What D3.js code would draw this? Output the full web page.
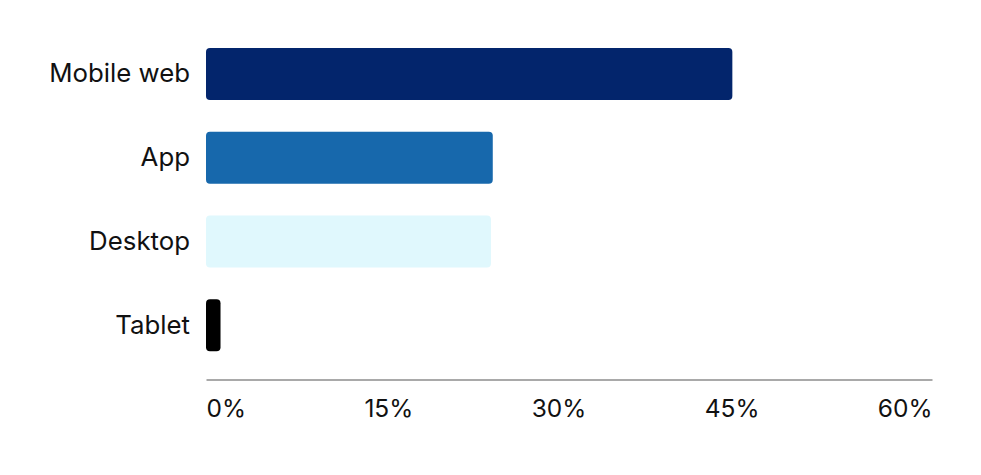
<!DOCTYPE html>
<html>
<head>
<meta charset="utf-8">
<script src="https://cdn.jsdelivr.net/npm/d3@7"></script>
<style>
  body { margin: 0; background: #fff; }
  text { font-family: Inter, "Noto Sans", sans-serif; fill: #111; }
</style>
</head>
<body>
<div id="chart"></div>
<script>
// Share by device
const categories = ['Mobile web', 'App', 'Desktop', 'Tablet'];
const values = [43.5, 23.7, 23.55, 1.2];
const colors = ['#03256c', '#1768ac', '#e0f8fd', '#000000'];
const tickValues = [0, 15, 30, 45, 60];

const width = 981;
const height = 475;
const margin = { top: 32, right: 49, bottom: 96, left: 206 };

const svg = d3.select('#chart')
    .append('svg')
    .attr('width', width)
    .attr('height', height);

const x = d3.scaleLinear()
    .domain([0, 60])
    .range([margin.left, width - margin.right]);

const y = d3.scaleBand()
    .domain(categories)
    .range([margin.top, margin.top + 83.8 * 4])
    .paddingInner(0.38)
    .paddingOuter(0.19);

// Bars
svg.selectAll('.bar')
    .data(categories)
    .enter()
    .append('rect')
    .attr('class', 'bar')
    .attr('x', x(0))
    .attr('y', d => y(d))
    .attr('width', (d, i) => x(values[i]) - x(0))
    .attr('height', y.bandwidth())
    .attr('rx', 4)
    .attr('fill', (d, i) => colors[i]);

// Category labels
svg.append('g')
    .attr('transform', `translate(${margin.left - 16},0)`)
    .call(d3.axisLeft(y).tickSize(0).tickPadding(0))
    .call(g => g.select('.domain').remove())
    .selectAll('text')
    .attr('font-size', 25.8)
    .attr('fill', '#111');

// Value axis
const axisY = 379.5;
const gx = svg.append('g')
    .attr('transform', `translate(0,${axisY})`)
    .call(d3.axisBottom(x).tickValues(tickValues).tickSize(0).tickPadding(0).tickFormat(d => d + '%'));

gx.select('.domain').attr('stroke', '#555').attr('stroke-width', 1.2);

// Labels are spread evenly across the axis (first flush left, last flush right)
const labels = gx.selectAll('.tick text')
    .attr('font-size', 24.5)
    .attr('fill', '#111')
    .attr('dy', 0)
    .attr('y', 37)
    .attr('text-anchor', 'start');

const widths = labels.nodes().map(n => n.getComputedTextLength());
const span = x.range()[1] - x.range()[0];
const gap = (span - d3.sum(widths)) / (widths.length - 1);
let cursor = x.range()[0];
gx.selectAll('.tick').each(function(d, i) {
    const tickX = x(d);
    d3.select(this).select('text').attr('x', cursor - tickX);
    cursor += widths[i] + gap;
});
</script>
</body>
</html>
